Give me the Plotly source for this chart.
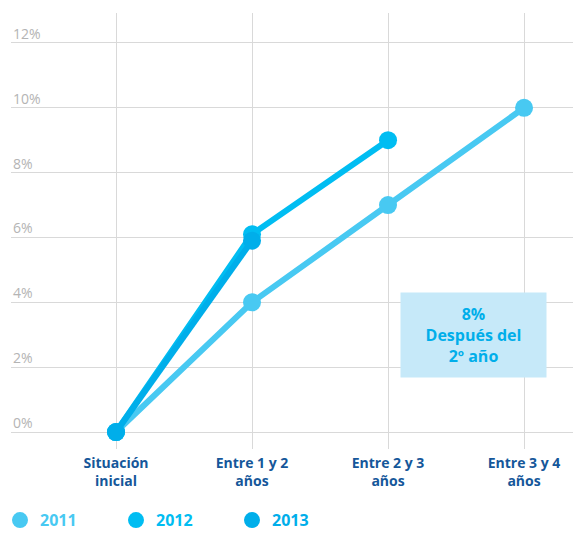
import plotly.graph_objects as go

categories = ["Situación<br>inicial", "Entre 1 y 2<br>años", "Entre 2 y 3<br>años", "Entre 3 y 4<br>años"]
y2011 = [0, 4, 7, 10]
y2012 = [0, 6.1, 9]
y2013 = [0, 5.9]
series_names = ["2011", "2012", "2013"]
series_colors = ["#48c9f2", "#00bdf2", "#00aeea"]
y_ticks = [0, 2, 4, 6, 8, 10, 12]
y_tick_labels = ["0%", "2%", "4%", "6%", "8%", "10%", "12%"]
note_text = "<b>8%<br>Después del<br>2º año</b>"

FONT = "Open Sans"
xpos = list(range(len(categories)))

fig = go.Figure()
for name, vals, col in zip(series_names, [y2011, y2012, y2013], series_colors):
    fig.add_trace(go.Scatter(
        x=xpos[:len(vals)], y=vals, mode="lines+markers", name=name,
        line=dict(color=col, width=6), marker=dict(color=col, size=18),
        showlegend=False, hoverinfo="skip"))
for name, col in zip(series_names, series_colors):
    fig.add_trace(go.Scatter(
        x=[None], y=[None], mode="markers",
        name=f"<b><span style='color:{col}'>{name}</span></b>",
        marker=dict(color=col, size=16), showlegend=True))

annotations = []
for v, t in zip(y_ticks, y_tick_labels):
    annotations.append(dict(x=0, xref="paper", y=v, yref="y", text=t,
                            showarrow=False, xanchor="left", yanchor="bottom", yshift=-2,
                            font=dict(family=FONT, size=14, color="#b4b4b4")))
annotations.append(dict(x=2.63, y=2.98, xref="x", yref="y", text=note_text,
                        showarrow=False, width=143, height=82,
                        bgcolor="#c6e9f9", align="center", valign="middle",
                        font=dict(family=FONT, size=16, color="#00aeea")))

fig.update_layout(
    width=573, height=533,
    margin=dict(l=11, r=0, t=13, b=84, autoexpand=False),
    paper_bgcolor="white", plot_bgcolor="white",
    xaxis=dict(range=[-0.772, 3.36], tickvals=xpos, ticktext=[f"<b>{c}</b>" for c in categories],
               showgrid=True, gridcolor="#d9d9d9", gridwidth=1, zeroline=False,
               showline=False, ticks="", automargin=False, ticklabelstandoff=4,
               tickfont=dict(family=FONT, size=14, color="#15579a")),
    yaxis=dict(range=[-0.523, 12.923], tickvals=y_ticks, showticklabels=False,
               showgrid=True, gridcolor="#d9d9d9", gridwidth=1, zeroline=False,
               showline=False, ticks="", automargin=False),
    showlegend=True,
    legend=dict(orientation="h", x=0, xref="container", xanchor="left",
                y=0.024, yref="container", yanchor="middle",
                entrywidth=71, entrywidthmode="pixels",
                font=dict(family=FONT, size=16, color="#48c9f2"),
                itemclick=False, itemdoubleclick=False),
    annotations=annotations,
)
fig.write_html("out.html", post_script="document.body.style.margin='0';",
               config={"displayModeBar": False})
